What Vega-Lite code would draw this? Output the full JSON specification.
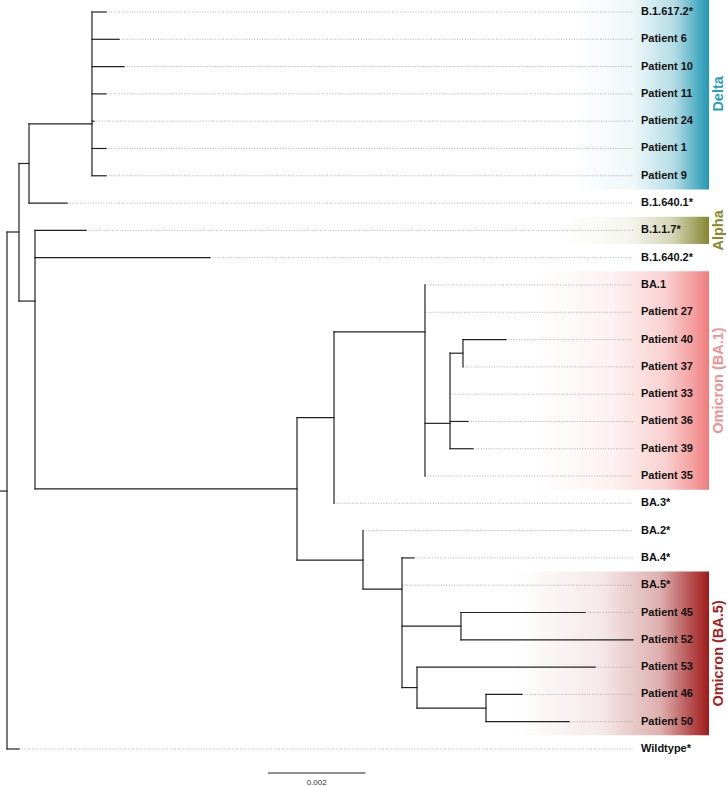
{
  "$schema": "https://vega.github.io/schema/vega-lite/v6.json",
  "width": 728,
  "height": 786,
  "padding": 0,
  "autosize": "none",
  "background": "white",
  "config": {"view": {"stroke": null}, "font": "Liberation Sans"},
  "datasets": {
    "tips": [
      {"name": "B.1.617.2*", "row": 1, "dist": 0.002033},
      {"name": "Patient 6", "row": 2, "dist": 0.0023},
      {"name": "Patient 10", "row": 3, "dist": 0.002402},
      {"name": "Patient 11", "row": 4, "dist": 0.002033},
      {"name": "Patient 24", "row": 5, "dist": 0.001786},
      {"name": "Patient 1", "row": 6, "dist": 0.002033},
      {"name": "Patient 9", "row": 7, "dist": 0.002033},
      {"name": "B.1.640.1*", "row": 8, "dist": 0.001232},
      {"name": "B.1.1.7*", "row": 9, "dist": 0.001622},
      {"name": "B.1.640.2*", "row": 10, "dist": 0.004168},
      {"name": "BA.1", "row": 11, "dist": 0.008583},
      {"name": "Patient 27", "row": 12, "dist": 0.008583},
      {"name": "Patient 40", "row": 13, "dist": 0.010246},
      {"name": "Patient 37", "row": 14, "dist": 0.009363},
      {"name": "Patient 33", "row": 15, "dist": 0.009097},
      {"name": "Patient 36", "row": 16, "dist": 0.009466},
      {"name": "Patient 39", "row": 17, "dist": 0.009569},
      {"name": "Patient 35", "row": 18, "dist": 0.008583},
      {"name": "BA.3*", "row": 19, "dist": 0.006715},
      {"name": "BA.2*", "row": 20, "dist": 0.00731},
      {"name": "BA.4*", "row": 21, "dist": 0.008357},
      {"name": "BA.5*", "row": 22, "dist": 0.008111},
      {"name": "Patient 45", "row": 23, "dist": 0.011869},
      {"name": "Patient 52", "row": 24, "dist": 0.012854},
      {"name": "Patient 53", "row": 25, "dist": 0.012074},
      {"name": "Patient 46", "row": 26, "dist": 0.010575},
      {"name": "Patient 50", "row": 27, "dist": 0.01154},
      {"name": "Wildtype*", "row": 28, "dist": 0.000246}
    ],
    "edges": [
      {"x": -0.0002, "x2": 0, "y": 18.55, "y2": 18.55},
      {"x": 0, "x2": 0.000246, "y": 9.06, "y2": 9.06},
      {"x": 0, "x2": 0.000246, "y": 28, "y2": 28},
      {"x": 0.000246, "x2": 0.000452, "y": 6.55, "y2": 6.55},
      {"x": 0.000246, "x2": 0.000575, "y": 11.59, "y2": 11.59},
      {"x": 0.000452, "x2": 0.001745, "y": 5.1, "y2": 5.1},
      {"x": 0.000452, "x2": 0.001232, "y": 8, "y2": 8},
      {"x": 0.001745, "x2": 0.002033, "y": 1, "y2": 1},
      {"x": 0.001745, "x2": 0.0023, "y": 2, "y2": 2},
      {"x": 0.001745, "x2": 0.002402, "y": 3, "y2": 3},
      {"x": 0.001745, "x2": 0.002033, "y": 4, "y2": 4},
      {"x": 0.001745, "x2": 0.001786, "y": 5, "y2": 5},
      {"x": 0.001745, "x2": 0.002033, "y": 6, "y2": 6},
      {"x": 0.001745, "x2": 0.002033, "y": 7, "y2": 7},
      {"x": 0.000575, "x2": 0.001622, "y": 9, "y2": 9},
      {"x": 0.000575, "x2": 0.004168, "y": 10, "y2": 10},
      {"x": 0.000575, "x2": 0.005955, "y": 18.47, "y2": 18.47},
      {"x": 0.005955, "x2": 0.006715, "y": 15.86, "y2": 15.86},
      {"x": 0.005955, "x2": 0.00731, "y": 21.08, "y2": 21.08},
      {"x": 0.006715, "x2": 0.008583, "y": 12.72, "y2": 12.72},
      {"x": 0.008583, "x2": 0.009097, "y": 16.07, "y2": 16.07},
      {"x": 0.009097, "x2": 0.009363, "y": 13.5, "y2": 13.5},
      {"x": 0.009363, "x2": 0.010246, "y": 13, "y2": 13},
      {"x": 0.009097, "x2": 0.009466, "y": 16, "y2": 16},
      {"x": 0.009097, "x2": 0.009569, "y": 17, "y2": 17},
      {"x": 0.00731, "x2": 0.008111, "y": 22.14, "y2": 22.14},
      {"x": 0.008111, "x2": 0.008357, "y": 21, "y2": 21},
      {"x": 0.008111, "x2": 0.009322, "y": 23.5, "y2": 23.5},
      {"x": 0.008111, "x2": 0.008419, "y": 25.75, "y2": 25.75},
      {"x": 0.009322, "x2": 0.011869, "y": 23, "y2": 23},
      {"x": 0.009322, "x2": 0.012854, "y": 24, "y2": 24},
      {"x": 0.008419, "x2": 0.012074, "y": 25, "y2": 25},
      {"x": 0.008419, "x2": 0.009836, "y": 26.5, "y2": 26.5},
      {"x": 0.009836, "x2": 0.010575, "y": 26, "y2": 26},
      {"x": 0.009836, "x2": 0.01154, "y": 27, "y2": 27},
      {"x": 0, "x2": 0, "y": 9.06, "y2": 28},
      {"x": 0.000246, "x2": 0.000246, "y": 6.55, "y2": 11.59},
      {"x": 0.000452, "x2": 0.000452, "y": 5.1, "y2": 8},
      {"x": 0.001745, "x2": 0.001745, "y": 1, "y2": 7},
      {"x": 0.000575, "x2": 0.000575, "y": 9, "y2": 18.47},
      {"x": 0.005955, "x2": 0.005955, "y": 15.86, "y2": 21.08},
      {"x": 0.006715, "x2": 0.006715, "y": 12.72, "y2": 19},
      {"x": 0.008583, "x2": 0.008583, "y": 11, "y2": 18},
      {"x": 0.009097, "x2": 0.009097, "y": 13.5, "y2": 17},
      {"x": 0.009363, "x2": 0.009363, "y": 13, "y2": 14},
      {"x": 0.00731, "x2": 0.00731, "y": 20, "y2": 22.14},
      {"x": 0.008111, "x2": 0.008111, "y": 21, "y2": 25.75},
      {"x": 0.009322, "x2": 0.009322, "y": 23, "y2": 24},
      {"x": 0.008419, "x2": 0.008419, "y": 25, "y2": 26.5},
      {"x": 0.009836, "x2": 0.009836, "y": 26, "y2": 27}
    ],
    "clades": [
      {"clade": "Delta", "y0": 0.5, "y1": 7.5, "ymid": 4},
      {"clade": "Alpha", "y0": 8.5, "y1": 9.5, "ymid": 9},
      {"clade": "Omicron (BA.1)", "y0": 10.5, "y1": 18.5, "ymid": 14.5},
      {"clade": "Omicron (BA.5)", "y0": 21.5, "y1": 27.5, "ymid": 24.5}
    ],
    "scalebar": [
      {"x": 0.005359, "x2": 0.007359, "y": 28.88, "label": "0.002"}
    ]
  },
  "layer": [
    {
      "data": {"name": "clades"},
      "transform": [{"filter": "datum.clade === 'Delta'"}],
      "mark": {"type": "rect", "fill": {"gradient": "linear", "x1": 0, "y1": 0, "x2": 1, "y2": 0, "stops": [
        {"offset": 0, "color": "rgba(34,153,180,0)"},
        {"offset": 0.45, "color": "rgba(34,153,180,0.08)"},
        {"offset": 0.75, "color": "rgba(34,153,180,0.35)"},
        {"offset": 0.92, "color": "rgba(34,153,180,0.8)"},
        {"offset": 1, "color": "rgba(34,153,180,1)"}]}},
      "encoding": {
        "x": {"datum": 0.0116, "type": "quantitative", "scale": {"domain": [-0.0001437, 0.014805], "nice": false, "zero": false}, "axis": null},
        "x2": {"datum": 0.014415},
        "y": {"field": "y0", "type": "quantitative", "scale": {"domain": [0.5604, 29.356], "reverse": true, "nice": false, "zero": false}, "axis": null},
        "y2": {"field": "y1"}
      }
    },
    {
      "data": {"name": "clades"},
      "transform": [{"filter": "datum.clade === 'Alpha'"}],
      "mark": {"type": "rect", "fill": {"gradient": "linear", "x1": 0, "y1": 0, "x2": 1, "y2": 0, "stops": [
        {"offset": 0, "color": "rgba(135,135,50,0)"},
        {"offset": 0.45, "color": "rgba(135,135,50,0.08)"},
        {"offset": 0.75, "color": "rgba(135,135,50,0.35)"},
        {"offset": 0.92, "color": "rgba(135,135,50,0.8)"},
        {"offset": 1, "color": "rgba(135,135,50,1)"}]}},
      "encoding": {
        "x": {"datum": 0.0114, "type": "quantitative"},
        "x2": {"datum": 0.014415},
        "y": {"field": "y0", "type": "quantitative"},
        "y2": {"field": "y1"}
      }
    },
    {
      "data": {"name": "clades"},
      "transform": [{"filter": "datum.clade === 'Omicron (BA.1)'"}],
      "mark": {"type": "rect", "fill": {"gradient": "linear", "x1": 0, "y1": 0, "x2": 1, "y2": 0, "stops": [
        {"offset": 0, "color": "rgba(240,123,123,0)"},
        {"offset": 0.45, "color": "rgba(240,123,123,0.1)"},
        {"offset": 0.75, "color": "rgba(240,123,123,0.35)"},
        {"offset": 0.92, "color": "rgba(240,123,123,0.75)"},
        {"offset": 1, "color": "rgba(240,123,123,1)"}]}},
      "encoding": {
        "x": {"datum": 0.0108, "type": "quantitative"},
        "x2": {"datum": 0.014415},
        "y": {"field": "y0", "type": "quantitative"},
        "y2": {"field": "y1"}
      }
    },
    {
      "data": {"name": "clades"},
      "transform": [{"filter": "datum.clade === 'Omicron (BA.5)'"}],
      "mark": {"type": "rect", "fill": {"gradient": "linear", "x1": 0, "y1": 0, "x2": 1, "y2": 0, "stops": [
        {"offset": 0, "color": "rgba(160,26,26,0)"},
        {"offset": 0.45, "color": "rgba(160,26,26,0.1)"},
        {"offset": 0.75, "color": "rgba(160,26,26,0.35)"},
        {"offset": 0.92, "color": "rgba(160,26,26,0.8)"},
        {"offset": 1, "color": "rgba(160,26,26,1)"}]}},
      "encoding": {
        "x": {"datum": 0.0104, "type": "quantitative"},
        "x2": {"datum": 0.014415},
        "y": {"field": "y0", "type": "quantitative"},
        "y2": {"field": "y1"}
      }
    },
    {
      "data": {"name": "tips"},
      "mark": {"type": "rule", "color": "#9a9a9a", "strokeWidth": 0.8, "strokeDash": [1, 1.6]},
      "encoding": {
        "x": {"field": "dist", "type": "quantitative"},
        "x2": {"datum": 0.012854},
        "y": {"field": "row", "type": "quantitative"}
      }
    },
    {
      "data": {"name": "edges"},
      "mark": {"type": "rule", "color": "#222222", "strokeWidth": 1.2, "strokeCap": "square"},
      "encoding": {
        "x": {"field": "x", "type": "quantitative"},
        "x2": {"field": "x2"},
        "y": {"field": "y", "type": "quantitative"},
        "y2": {"field": "y2"}
      }
    },
    {
      "data": {"name": "tips"},
      "mark": {"type": "text", "align": "left", "baseline": "middle", "dx": 8, "fontSize": 11, "fontWeight": "bold", "color": "#111111"},
      "encoding": {
        "x": {"datum": 0.012854, "type": "quantitative"},
        "y": {"field": "row", "type": "quantitative"},
        "text": {"field": "name"}
      }
    },
    {
      "data": {"name": "clades"},
      "mark": {"type": "text", "angle": 270, "align": "center", "baseline": "middle", "fontSize": 14.5, "fontWeight": "bold"},
      "encoding": {
        "x": {"datum": 0.01463, "type": "quantitative"},
        "y": {"field": "ymid", "type": "quantitative"},
        "text": {"field": "clade"},
        "color": {"field": "clade", "type": "nominal", "legend": null, "scale": {"domain": ["Delta", "Alpha", "Omicron (BA.1)", "Omicron (BA.5)"], "range": ["#2A9DB7", "#8A8A2C", "#F29090", "#A51F1F"]}}
      }
    },
    {
      "data": {"name": "scalebar"},
      "mark": {"type": "rule", "color": "#222222", "strokeWidth": 1.2},
      "encoding": {
        "x": {"field": "x", "type": "quantitative"},
        "x2": {"field": "x2"},
        "y": {"field": "y", "type": "quantitative"}
      }
    },
    {
      "data": {"name": "scalebar"},
      "mark": {"type": "text", "align": "center", "baseline": "middle", "dy": 10, "fontSize": 8, "color": "#333333"},
      "encoding": {
        "x": {"datum": 0.006359, "type": "quantitative"},
        "y": {"field": "y", "type": "quantitative"},
        "text": {"field": "label"}
      }
    }
  ]
}
